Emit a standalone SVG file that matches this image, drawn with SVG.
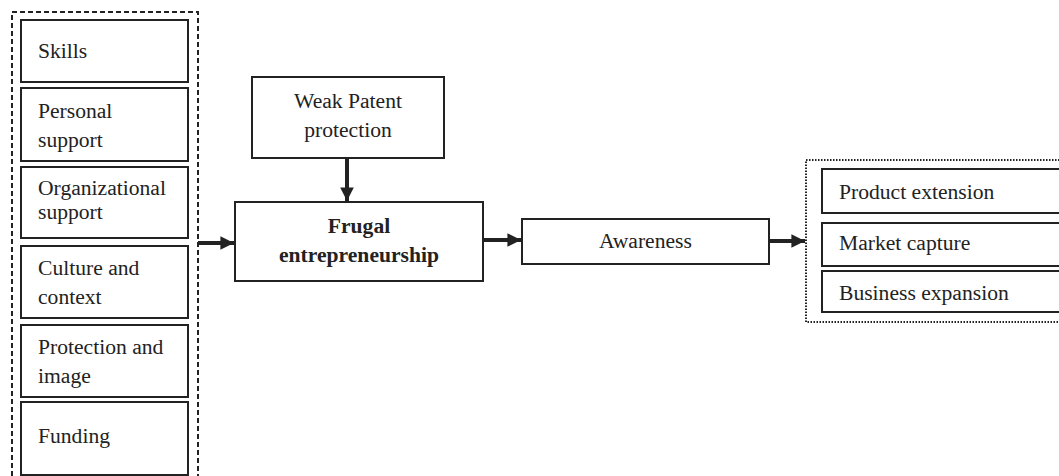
<svg xmlns="http://www.w3.org/2000/svg" width="1059" height="476" viewBox="0 0 1059 476">
<style>
.box{fill:#fff;stroke:#222;stroke-width:2}
.t{font-family:"Liberation Serif","Times New Roman",serif;font-size:21.6px;fill:#222}
.b{font-weight:bold}
.arr{stroke:#222;stroke-width:4;fill:none}
</style>
<defs>
<marker id="ah" viewBox="0 0 10 10" refX="10" refY="5" markerWidth="3.6" markerHeight="3.4" orient="auto" markerUnits="strokeWidth">
<path d="M0,0 L10,5 L0,10 z" fill="#222"/>
</marker>
</defs>
<rect width="1059" height="476" fill="#fff"/>
<g id="left-group">
<rect x="12" y="12" width="186" height="470" fill="none" stroke="#222" stroke-width="2" stroke-dasharray="5,3"/>
<g id="skills"><rect class="box" x="21" y="20" width="167" height="62"/><text class="t" x="38" y="58">Skills</text></g>
<g id="personal"><rect class="box" x="21" y="88" width="167" height="73"/><text class="t" x="38" y="118">Personal</text><text class="t" x="38" y="147">support</text></g>
<g id="organizational"><rect class="box" x="21" y="167" width="167" height="71"/><text class="t" x="38" y="195">Organizational</text><text class="t" x="38" y="219">support</text></g>
<g id="culture"><rect class="box" x="21" y="246" width="167" height="72"/><text class="t" x="38" y="275">Culture and</text><text class="t" x="38" y="304">context</text></g>
<g id="protection"><rect class="box" x="21" y="325" width="167" height="72"/><text class="t" x="38" y="354">Protection and</text><text class="t" x="38" y="383">image</text></g>
<g id="funding"><rect class="box" x="21" y="402" width="167" height="73"/><text class="t" x="38" y="443">Funding</text></g>
</g>
<g id="weak-patent"><rect class="box" x="252" y="77" width="192" height="81"/><text class="t" x="348" y="108" text-anchor="middle">Weak Patent</text><text class="t" x="348" y="137" text-anchor="middle">protection</text></g>
<g id="frugal"><rect class="box" x="235" y="202" width="248" height="79"/><text class="t b" x="359" y="233" text-anchor="middle">Frugal</text><text class="t b" x="359" y="262" text-anchor="middle">entrepreneurship</text></g>
<g id="awareness"><rect class="box" x="522" y="219" width="247" height="45"/><text class="t" x="645.5" y="248" text-anchor="middle">Awareness</text></g>
<g id="right-group">
<rect x="806" y="160" width="270" height="162" fill="none" stroke="#222" stroke-width="2" stroke-dasharray="1.5,1.5"/>
<g id="product"><rect class="box" x="822" y="169" width="260" height="44"/><text class="t" x="839" y="199">Product extension</text></g>
<g id="market"><rect class="box" x="822" y="223" width="260" height="43"/><text class="t" x="839" y="250">Market capture</text></g>
<g id="business"><rect class="box" x="822" y="271" width="260" height="41"/><text class="t" x="839" y="300">Business expansion</text></g>
</g>
<g id="connectors">
<line class="arr" x1="347" y1="158" x2="347" y2="201" marker-end="url(#ah)"/>
<line class="arr" x1="198" y1="243" x2="234" y2="243" marker-end="url(#ah)"/>
<line class="arr" x1="483" y1="240" x2="521" y2="240" marker-end="url(#ah)"/>
<line class="arr" x1="769" y1="241" x2="805" y2="241" marker-end="url(#ah)"/>
</g>
</svg>
